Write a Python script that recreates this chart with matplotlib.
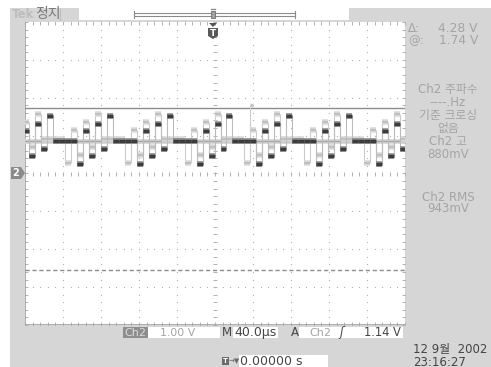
import numpy as np
import matplotlib.pyplot as plt
from matplotlib.patches import Rectangle, Polygon
from matplotlib.lines import Line2D

plt.rcParams['font.family'] = ['DejaVu Sans', 'Noto Sans CJK KR']

# scope settings
volts_per_div = 1.00
us_per_div = 40.0
trig_level = 1.14
cursor_at = 1.74
cursor_delta = 4.28

# one cycle of the stepped Ch2 signal (V), each step ~6.3 us
step_us = 6.3
cycle_levels = [0.24, 1.11, 0.45, 1.32, 0.66, 1.53, 0.87, 0.87, 0.87, 0.87]
n_cycles = 7
start_us = -208.4
ghost_shift_us = -12.6   # second (persisted) acquisition
glitch_t = [36.5, 40.5]
glitch_v = 1.82

side_labels = ["Ch2 주파수", "----.Hz", "기준 크로싱", "없음", "Ch2 고", "880mV"]
side_y = [90, 102, 115, 128, 142, 155]
rms_labels = ["Ch2 RMS", "943mV"]
rms_y = [197, 209]

W, H = 491, 367
BG = '#d6d6d6'
LT = '#a4a4a4'
DK = '#454545'
GR = '#b2b2b2'


def P(x, y):
    return x / W, 1 - y / H


def box(x0, y0, x1, y1, fc, ec='none', lw=0, z=1):
    fx0, fy1 = P(x0, y1)
    fig.add_artist(Rectangle((fx0, fy1), (x1 - x0) / W, (y1 - y0) / H,
                             transform=fig.transFigure, fc=fc, ec=ec, lw=lw, zorder=z))


def txt(x, y, s, c=LT, size=7.5, **kw):
    fig.text(*P(x, y), s, color=c, fontsize=size, va='center', **kw)


def line(xs, ys, c='#808080', lw=1, **kw):
    fx = [x / W for x in xs]
    fy = [1 - y / H for y in ys]
    fig.add_artist(Line2D(fx, fy, transform=fig.transFigure, color=c, lw=lw, **kw))


fig = plt.figure(figsize=(W / 100, H / 100), dpi=100)
fig.patch.set_facecolor('white')
box(10, 8, W, H, BG, z=-1)

# screen
ax = fig.add_axes([25 / W, (H - 325) / H, 380 / W, 303 / H])
ax.set_facecolor('white')
ax.set_xlim(-5 * us_per_div, 5 * us_per_div)
ax.set_ylim(-4 * volts_per_div, 4 * volts_per_div)
ax.set_xticks([])
ax.set_yticks([])
for s in ax.spines.values():
    s.set_visible(False)

# graticule
xs_major = np.arange(-4, 5) * us_per_div
ys_major = np.arange(-3, 4) * volts_per_div
ys_minor = np.arange(-4, 4.01, 0.2) * volts_per_div
xs_minor = np.arange(-5, 5.01, 0.2) * us_per_div
for x in xs_major:
    ax.plot(np.full_like(ys_minor, x), ys_minor, ls='none', marker='s', ms=0.8, color=GR, mew=0)
for y in ys_major:
    ax.plot(xs_minor, np.full_like(xs_minor, y), ls='none', marker='s', ms=0.8, color=GR, mew=0)
ax.plot(np.zeros_like(ys_minor), ys_minor, ls='none', marker='_', ms=3.5, color=GR, mew=0.7)
ax.plot(xs_minor, np.zeros_like(xs_minor), ls='none', marker='|', ms=3.5, color=GR, mew=0.7)
for y_edge in [4, -4]:
    ax.plot(xs_minor, np.full_like(xs_minor, y_edge * volts_per_div), ls='none', marker='|', ms=5, color=GR, mew=0.7)
for x_edge in [-5, 5]:
    ax.plot(np.full_like(ys_minor, x_edge * us_per_div), ys_minor, ls='none', marker='_', ms=5, color=GR, mew=0.7)
ax.axvline(-5 * us_per_div, color='#a0a0a0', lw=1.2)
ax.axhline(-4 * volts_per_div, color='#a0a0a0', lw=1.2)
ax.axvline(5 * us_per_div, color='#b8b8b8', lw=0.8)

# cursors
ax.axhline(cursor_at, color='#8c8c8c', lw=1)
ax.axhline(cursor_at - cursor_delta, color='#8c8c8c', lw=1, ls=(0, (3, 2)))

# signal
levels = np.tile(cycle_levels, n_cycles)
edges = start_us + step_us * np.arange(len(levels) + 1)
base = cycle_levels[-1]
ax.axhline(base, color='#d8d8d8', lw=3.5)
ax.axhline(base, color='#a4a4a4', lw=1)

g_edges = edges + ghost_shift_us
ax.vlines(g_edges[1:-1], levels[:-1] + 0.04, levels[1:] + 0.04, color='#cccccc', lw=0.8)
ax.hlines(levels + 0.04, g_edges[:-1], g_edges[1:], color='#dadada', lw=4)
ax.hlines(levels + 0.04, g_edges[:-1], g_edges[1:], color='#c0c0c0', lw=1.6)
ax.vlines(glitch_t[0], cycle_levels[1], glitch_v, color='#cccccc', lw=0.8)
ax.hlines(glitch_v, glitch_t[0], glitch_t[1], color='#c4c4c4', lw=2.5)

ax.vlines(edges[1:-1], levels[:-1], levels[1:], color='#bcbcbc', lw=0.8)
ax.hlines(levels, edges[:-1], edges[1:], color='#8a8a8a', lw=4)
ax.hlines(levels, edges[:-1], edges[1:], color='#3c3c3c', lw=2.4)

# top bar
txt(12, 14, "Tek", c='#bdbdbd', size=8.5, weight='bold')
txt(35, 14, "정지", c='#7a7a7a', size=10)
line([60, 60], [9, 20], c='#bdbdbd', lw=0.8)
box(79, 0, 349, 20, 'white')
box(134, 13, 295, 16, 'white', ec='#8c8c8c', lw=0.8)
line([134, 134], [11, 18], c='#8c8c8c', lw=0.8)
line([295, 295], [11, 18], c='#8c8c8c', lw=0.8)
line([211, 215], [9, 9], c='#8c8c8c', lw=1)
box(211, 11, 215, 18, '#a0a0a0', ec='#707070', lw=0.6)

# trigger position marker
fig.add_artist(Polygon([P(209, 23), P(217, 23), P(213, 27)], closed=True,
                       transform=fig.transFigure, fc='#555555', ec='none'))
fig.add_artist(Polygon([P(208, 28), P(218, 28), P(218, 36), P(213, 39), P(208, 36)], closed=True,
                       transform=fig.transFigure, fc='#5a5a5a', ec='none'))
txt(213, 33, "T", c='white', size=6.5, weight='bold', ha='center')

# ground marker for Ch2
fig.add_artist(Polygon([P(11, 167), P(21, 167), P(25, 173), P(21, 179), P(11, 179)], closed=True,
                       transform=fig.transFigure, fc='#8a8a8a', ec='none'))
txt(16, 173, "2", c='white', size=7, weight='bold', ha='center')

# right readouts
txt(408, 29, "Δ:", size=8.5)
txt(478, 29, f"{cursor_delta:.2f} V", size=8.8, ha='right')
txt(408, 41, "@:", size=8.5)
txt(478, 41, f"{cursor_at:.2f} V", size=8.8, ha='right')
for s, y in zip(side_labels, side_y):
    txt(448, y, s, size=8.5, ha='center')
for s, y in zip(rms_labels, rms_y):
    txt(448, y, s, size=8.5, ha='center')

# bottom readouts
box(123, 327, 148, 338, '#8e8e8e')
txt(124, 332.5, "Ch2", c='#dcdcdc', size=8)
box(148, 327, 220, 338, 'white')
txt(160, 332.5, f"{volts_per_div:.2f} V", size=7.8)
txt(222, 332.5, "M", c=DK, size=8.5)
box(233, 327, 278, 338, 'white')
txt(234, 332.5, f"{us_per_div:.1f}µs", c=DK, size=9)
txt(291, 332.5, "A", c=DK, size=8.5)
box(299, 327, 403, 338, 'white')
txt(309, 332.5, "Ch2", size=8)
txt(339, 332.5, "ʃ", c=DK, size=8.5, style='italic')
txt(401, 332.5, f"{trig_level:.2f} V", c=DK, size=8.3, ha='right')

box(222, 357, 229, 365, '#6a6a6a')
txt(225.5, 361, "T", c='white', size=5, ha='center', weight='bold')
txt(229, 361, "→▼", c='#6a6a6a', size=5)
box(239, 355, 328, H, 'white')
txt(240, 361.5, "0.00000 s", c=DK, size=9)

txt(413, 349.5, "12 9월  2002", c=DK, size=8.5)
txt(413, 362, "23:16:27", c=DK, size=8.5)

fig.savefig('out.png', dpi=100, facecolor=fig.get_facecolor())
